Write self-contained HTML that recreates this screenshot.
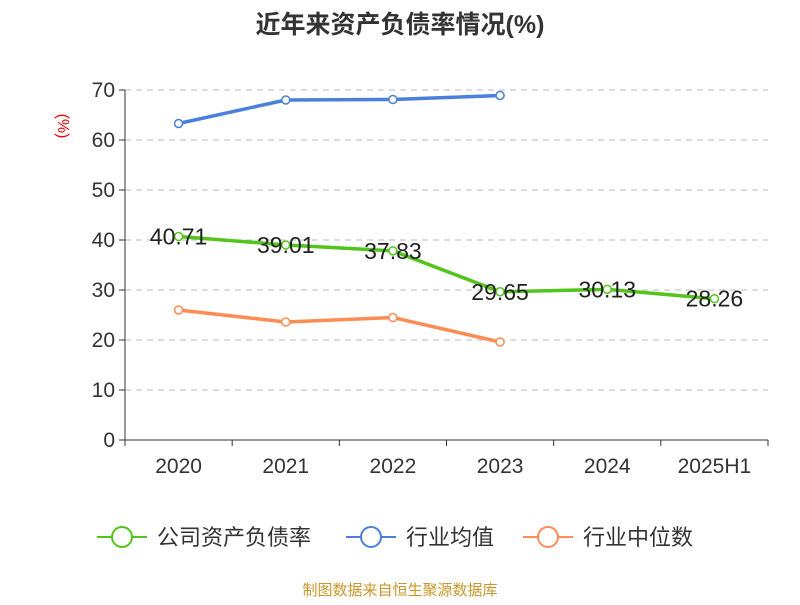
<!DOCTYPE html>
<html><head><meta charset="utf-8"><style>
body{margin:0;background:#fff;font-family:"Liberation Sans","Noto Sans CJK SC",sans-serif}
</style></head><body>
<svg id="c" width="800" height="600" xmlns="http://www.w3.org/2000/svg" font-family="Liberation Sans, Noto Sans CJK SC, sans-serif">
<text x="400" y="33" text-anchor="middle" font-size="25" font-weight="bold" fill="#333">近年来资产负债率情况(%)</text>
<text transform="translate(58,126) rotate(90)" text-anchor="middle" font-size="16" fill="#e00">(%)</text>
<g id="grid"></g><g id="axes"></g><g id="series"></g>
<g>
<g><line x1="97" y1="537" x2="147" y2="537" stroke="#52c41a" stroke-width="2"/><circle cx="122" cy="537" r="10" fill="#fff" stroke="#52c41a" stroke-width="2"/><text x="157" y="545" font-size="22" fill="#333">公司资产负债率</text></g>
<g><line x1="346" y1="537" x2="396" y2="537" stroke="#4a7fdc" stroke-width="2"/><circle cx="371" cy="537" r="10" fill="#fff" stroke="#4a7fdc" stroke-width="2"/><text x="406" y="545" font-size="22" fill="#333">行业均值</text></g>
<g><line x1="523" y1="537" x2="573" y2="537" stroke="#ff8c55" stroke-width="2"/><circle cx="548" cy="537" r="10" fill="#fff" stroke="#ff8c55" stroke-width="2"/><text x="583" y="545" font-size="22" fill="#333">行业中位数</text></g>
</g>
<text x="400" y="595" text-anchor="middle" font-size="15" fill="#c8962a">制图数据来自恒生聚源数据库</text>
</svg>
<script>
const categories=["2020","2021","2022","2023","2024","2025H1"];
const companyValues=[40.71,39.01,37.83,29.65,30.13,28.26];
const avgValues=[63.3,68.0,68.1,68.9];
const medianValues=[26.0,23.6,24.5,19.6];
const yTicks=[0,10,20,30,40,50,60,70];
const NS="http://www.w3.org/2000/svg";
const x0=125,x1=768,yb=440,yt=90,ymax=70;
const bw=(x1-x0)/categories.length;
const X=i=>x0+bw*(i+0.5);
const Y=v=>yb-(v/ymax)*(yb-yt);
function mk(tag,attrs,parent,txt){const e=document.createElementNS(NS,tag);for(const k in attrs)e.setAttribute(k,attrs[k]);if(txt!==undefined)e.textContent=txt;document.getElementById(parent).appendChild(e);return e;}
yTicks.forEach(t=>{
 if(t>0){const g=mk('line',{x1:x0,x2:x1,y1:Y(t),y2:Y(t),stroke:'#bbb','stroke-dasharray':'6,5'},'grid');
 }
 const tk=mk('line',{x1:x0-6,x2:x0,y1:Y(t),y2:Y(t),stroke:'#333'},'axes');
 
 const l=mk('text',{x:x0-10,y:Y(t)+7,'text-anchor':'end','font-size':21,fill:'#333'},'axes',t);
 
});
const ya=mk('line',{x1:x0,x2:x0,y1:yt,y2:yb,stroke:'#333'},'axes');
const xa=mk('line',{x1:x0,x2:x1,y1:yb,y2:yb,stroke:'#333'},'axes');
for(let i=0;i<=categories.length;i++){const t=mk('line',{x1:x0+bw*i,x2:x0+bw*i,y1:yb,y2:yb+6,stroke:'#333'},'axes');}
categories.forEach((c,i)=>{const l=mk('text',{x:X(i),y:yb+33,'text-anchor':'middle','font-size':21,fill:'#333'},'axes',c);});
function series(vals,color,name,labels){
 const p=mk('polyline',{points:vals.map((v,i)=>X(i)+','+Y(v)).join(' '),fill:'none',stroke:color,'stroke-width':3.5},'series');
 
 vals.forEach((v,i)=>{const c=mk('circle',{cx:X(i),cy:Y(v),r:4,fill:'#fff',stroke:color,'stroke-width':1.5},'series');
  
  if(labels){const t=mk('text',{x:X(i),y:Y(v)+8,'text-anchor':'middle','font-size':23,fill:'#222'},'series',v.toFixed(2));
  }
 });
}
series(avgValues,'#4a7fdc','industry-avg',false);
series(medianValues,'#ff8c55','industry-median',false);
series(companyValues,'#52c41a','company',true);
</script>
</body></html>
